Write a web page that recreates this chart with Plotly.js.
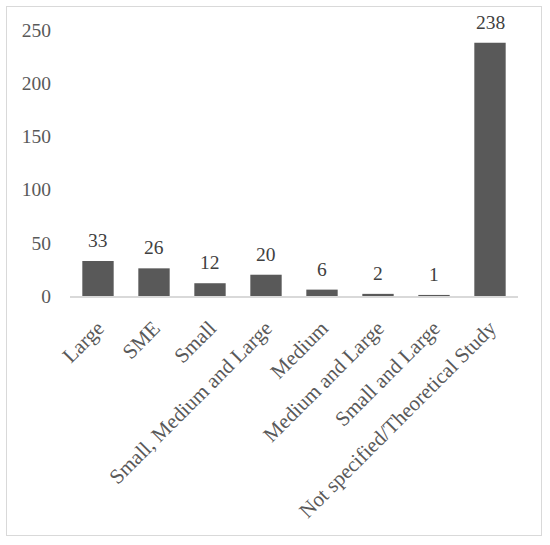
<!DOCTYPE html>
<html>
<head>
<meta charset="utf-8">
<script src="https://cdn.plot.ly/plotly-3.0.1.min.js"></script>
<style>
  body { margin: 0; background: #fff; }
  #wrap { position: relative; width: 550px; height: 545px; }
  #frame { position: absolute; left: 6px; top: 6px; width: 534px; height: 528px;
           border: 1.5px solid #d9d9d9; pointer-events: none; }
  #chart { width: 550px; height: 545px; }
</style>
</head>
<body>
<div id="wrap">
  <div id="chart"></div>
  <div id="frame"></div>
</div>
<script>
const categories = ['Large', 'SME', 'Small', 'Small, Medium and Large', 'Medium',
                    'Medium and Large', 'Small and Large', 'Not specified/Theoretical Study'];
const counts = [33, 26, 12, 20, 6, 2, 1, 238];
const yTicks = [0, 50, 100, 150, 200, 250];

const serif = '"Palatino Linotype", "Book Antiqua", Palatino, "Liberation Serif", serif';

const trace = {
    x: categories,
    y: counts,
    type: 'bar',
    marker: { color: '#595959' },
    hoverinfo: 'x+y'
};

// value labels above each bar
const valueLabels = categories.map((c, i) => ({
    x: c,
    y: counts[i],
    text: String(counts[i]),
    showarrow: false,
    yanchor: 'bottom',
    yshift: 8,
    font: { family: serif, size: 19.5, color: '#404040' }
}));

const layout = {
    width: 550,
    height: 545,
    margin: { l: 70, r: 32, t: 30, b: 249 },
    paper_bgcolor: '#ffffff',
    plot_bgcolor: '#ffffff',
    font: { family: serif, size: 19.5, color: '#595959' },
    bargap: 0.44,
    showlegend: false,
    annotations: valueLabels,
    xaxis: {
        tickangle: -45,
        showline: true,
        linecolor: '#d9d9d9',
        linewidth: 1.5,
        ticks: '',
        showgrid: false,
        automargin: false,
        ticklabelstandoff: 10,
        tickfont: { family: serif, size: 21, color: '#595959' }
    },
    yaxis: {
        range: [0, 250],
        tickvals: yTicks,
        showline: false,
        showgrid: false,
        zeroline: false,
        ticks: '',
        automargin: false,
        ticklabelstandoff: 18,
        tickfont: { family: serif, size: 19.5, color: '#595959' }
    }
};

Plotly.newPlot('chart', [trace], layout, { displayModeBar: false, staticPlot: true });
</script>
</body>
</html>
